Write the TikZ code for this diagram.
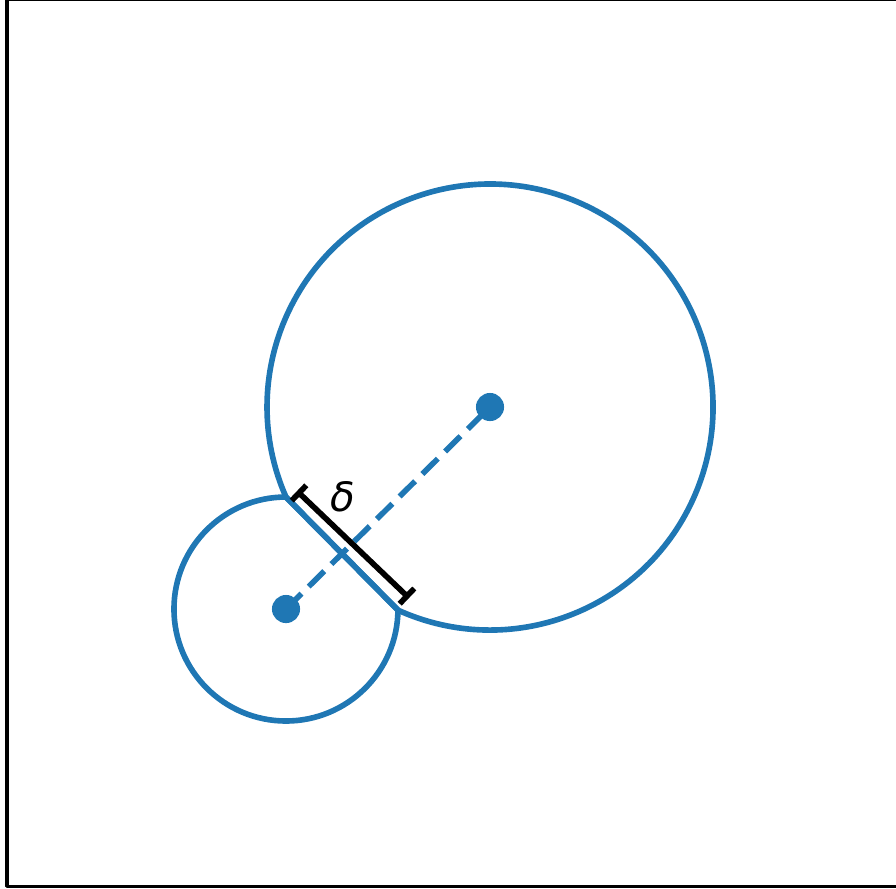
\documentclass[tikz,border=0pt]{standalone}
\usepackage{fontspec}
\newfontfamily\deltafont{DejaVu Sans}
\usetikzlibrary{arrows.meta}
\definecolor{tabblue}{HTML}{1F77B4}
\begin{document}
\begin{tikzpicture}[line join=round, line cap=round,
  disk/.style={draw=tabblue, line width=1.6pt},
  dot/.style={circle, fill=tabblue, inner sep=0pt, minimum size=8pt},
  link/.style={draw=tabblue, line width=1.6pt, line cap=butt, dash pattern=on 6.2pt off 2.9pt},
  gap/.style={draw=black, line width=1.6pt, line cap=butt, {Bar[width=6pt]}-{Bar[width=6pt]}},
  lab/.style={font=\deltafont\itshape\fontsize{11.5}{13}\selectfont}
]
  \useasboundingbox (0,0) rectangle (8.96,8.88);
  \draw[line width=0.95pt] (0.07,0.017) rectangle (9.3,8.885);

  \coordinate (c1) at (2.86,2.79);
  \coordinate (c2) at (4.90,4.81);

  % where the two circles meet
  \coordinate (A) at (2.8597,3.9100);
  \coordinate (B) at (3.9799,2.7786);

  \draw[disk] (A) arc[start angle=90, end angle=359.42, radius=1.12] -- cycle;
  \draw[disk] (B) arc[start angle=245.63, end angle=563.81, radius=2.23] -- cycle;

  \draw[link] (c1) -- (c2);

  \node[dot] at (c1) {};
  \node[dot] at (c2) {};

  \coordinate (d1) at (2.97,3.97);
  \coordinate (d2) at (4.09,2.90);
  \draw[gap] (d1) -- (d2);
  \node[lab] (delta) at (3.43,3.91) {δ};
\end{tikzpicture}
\end{document}
